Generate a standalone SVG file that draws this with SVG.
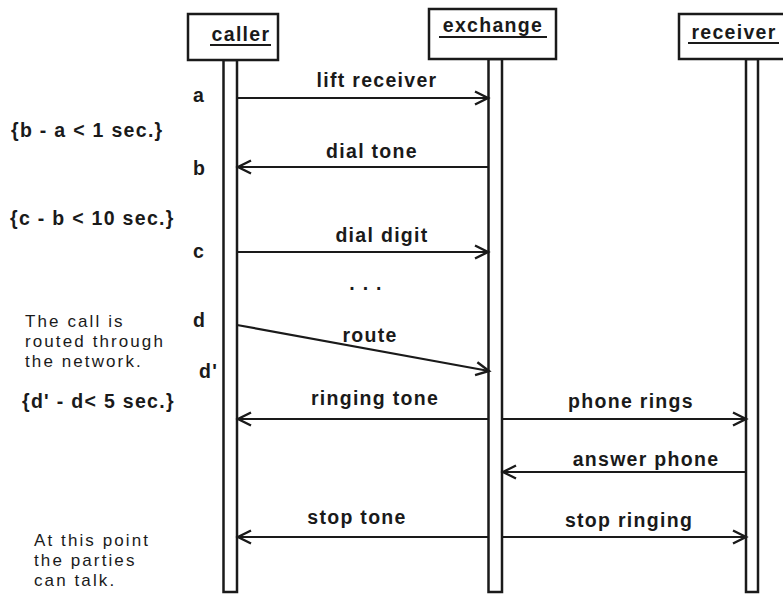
<svg xmlns="http://www.w3.org/2000/svg" width="783" height="594" viewBox="0 0 783 594">
<style>
.b{font-family:"Liberation Sans",Arial,sans-serif;font-weight:bold;font-size:19.5px;letter-spacing:1.3px;fill:#1a1a1a}
.r{font-family:"Liberation Sans",Arial,sans-serif;font-size:17px;letter-spacing:2.1px;fill:#1a1a1a}
.m{text-anchor:middle}
.box{fill:#fff;stroke:#1a1a1a;stroke-width:2.5}
.life{fill:#fff;stroke:#1a1a1a;stroke-width:2.5}
.msg{stroke:#1a1a1a;stroke-width:2.2;fill:none;marker-end:url(#ah)}
.ul{stroke:#1a1a1a;stroke-width:2}
</style>
<defs>
<marker id="ah" markerUnits="userSpaceOnUse" markerWidth="20" markerHeight="20" viewBox="-16 -10 20 20" refX="0" refY="0" orient="auto">
<path d="M-13,-6.5 L0,0 L-13,6.5" fill="none" stroke="#1a1a1a" stroke-width="2.4"/>
</marker>
</defs>
<rect width="783" height="594" fill="#fff"/>
<g id="caller">
<rect class="life" x="223.5" y="60" width="13.5" height="532"/>
<rect class="box" x="188" y="14" width="90" height="46"/>
<text class="b m" x="241" y="41">caller</text>
<line class="ul" x1="210" y1="45" x2="271" y2="45"/>
</g>
<g id="exchange">
<rect class="life" x="488.5" y="59" width="13.5" height="533"/>
<rect class="box" x="429" y="9" width="127" height="50"/>
<text class="b m" x="493" y="32">exchange</text>
<line class="ul" x1="439" y1="37" x2="547" y2="37"/>
</g>
<g id="receiver">
<rect class="life" x="746" y="59" width="12" height="533"/>
<rect class="box" x="679" y="14" width="110" height="45"/>
<text class="b m" x="734" y="39">receiver</text>
<line class="ul" x1="688" y1="43" x2="779" y2="43"/>
</g>
<g id="connectors">
<line class="msg" x1="237" y1="98" x2="488" y2="98"/>
<line class="msg" x1="488" y1="167" x2="238" y2="167"/>
<line class="msg" x1="237" y1="252" x2="488" y2="252"/>
<line class="msg" x1="237" y1="325" x2="489" y2="371"/>
<line class="msg" x1="488" y1="419" x2="238" y2="419"/>
<line class="msg" x1="502" y1="419" x2="746" y2="419"/>
<line class="msg" x1="746" y1="472" x2="503" y2="472"/>
<line class="msg" x1="488" y1="537" x2="238" y2="537"/>
<line class="msg" x1="502" y1="537" x2="746" y2="537"/>
</g>
<g id="labels">
<text class="b m" x="377" y="87">lift receiver</text>
<text class="b m" x="372" y="158">dial tone</text>
<text class="b m" x="382" y="242">dial digit</text>
<text class="b m" x="366" y="290">. . .</text>
<text class="b m" x="370" y="342">route</text>
<text class="b m" x="375" y="405">ringing tone</text>
<text class="b m" x="631" y="408">phone rings</text>
<text class="b m" x="646" y="466">answer phone</text>
<text class="b m" x="629" y="527">stop ringing</text>
<text class="b m" x="357" y="524">stop tone</text>
</g>
<g id="notes">
<text class="b" x="193" y="102">a</text>
<text class="b" x="193" y="175">b</text>
<text class="b" x="193" y="258">c</text>
<text class="b" x="193" y="327">d</text>
<text class="b" x="199" y="378">d'</text>
<text class="b" x="11" y="137">{b - a &lt; 1 sec.}</text>
<text class="b" x="10" y="225">{c - b &lt; 10 sec.}</text>
<text class="b" x="22" y="408">{d' - d&lt; 5 sec.}</text>
<text class="r" x="25" y="327">The call is</text>
<text class="r" x="25" y="347">routed through</text>
<text class="r" x="25" y="367">the network.</text>
<text class="r" x="34" y="546">At this point</text>
<text class="r" x="34" y="566">the parties</text>
<text class="r" x="34" y="586">can talk.</text>
</g>
</svg>
